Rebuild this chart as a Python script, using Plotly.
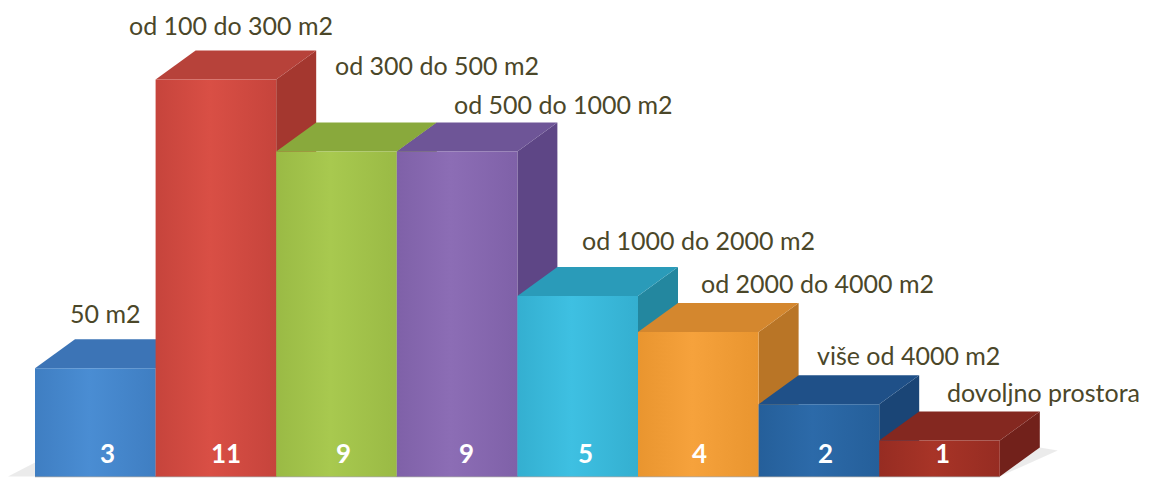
import plotly.graph_objects as go

# ---- data ----
categories = ["50 m2", "od 100 do 300 m2", "od 300 do 500 m2", "od 500 do 1000 m2",
              "od 1000 do 2000 m2", "od 2000 do 4000 m2", "više od 4000 m2", "dovoljno prostora"]
values = [3, 11, 9, 9, 5, 4, 2, 1]

# ---- style ----
front_colors = ["#4a8dd3", "#d94f45", "#a8c94f", "#8c6db5", "#3ec0e2", "#f6a23c", "#2c6aa9", "#a83427"]
front_edge = ["#3f7ec2", "#c6443c", "#9aba45", "#7f61a8", "#34afd0", "#e9952f", "#255f9a", "#962c22"]
top_colors = ["#3c74b6", "#b7423a", "#89a93c", "#6e5597", "#2a9bb9", "#d4872e", "#1f5088", "#842820"]
side_colors = ["#3068a6", "#a4372f", "#7a9834", "#5e4686", "#23879f", "#b97526", "#1a4576", "#72211b"]
label_color = "#4b4729"

W, H = 1151, 479
PX_X = 120.6      # pixels per category
PX_Y = 36.1       # pixels per unit
LEFT_PX = 35
BASE_PX = 476.5
DX = 40 / PX_X    # depth offset in x (data units)
DY = 29 / PX_Y    # depth offset in y (data units)
BW = 1.0

x0 = -0.5 - LEFT_PX / PX_X
x1 = x0 + W / PX_X
y0 = -(H - BASE_PX) / PX_Y
y1 = BASE_PX / PX_Y

LABEL_DX = [10, 15, 100, 106, 121, 119, 90, 104]
LABEL_DY = [55, 54, 87, 48, 56, 49, 49, 48]
VALUE_DX = [12, 10, 7, 9, 8, 1, 7, 3]

fig = go.Figure()

def poly(xs, ys, color, grad=None):
    kw = dict(x=xs + [xs[0]], y=ys + [ys[0]], mode="lines", fill="toself",
              fillcolor=color, line=dict(width=0, color=color),
              hoverinfo="skip", showlegend=False)
    if grad:
        kw["fillgradient"] = dict(type="horizontal", colorscale=grad)
    fig.add_trace(go.Scatter(**kw))

n = len(values)
# soft shadows at the floor ends
poly([x0 + 8 / PX_X, -0.5, -0.5], [0, 0, 14 / PX_Y], "rgba(0,0,0,0.08)")
poly([n - 0.5, n - 0.5 + DX + 18 / PX_X, n - 0.5 + DX], [0, DY * 0.9, DY], "rgba(0,0,0,0.08)")

# baseline
fig.add_trace(go.Scatter(x=[-0.5, n - 0.5], y=[0, 0], mode="lines",
                         line=dict(color="#a6a6a6", width=1.5),
                         hoverinfo="skip", showlegend=False))

for i, v in enumerate(values):
    l, r = i - BW / 2, i + BW / 2
    poly([r, r + DX, r + DX, r], [0, DY, v + DY, v], side_colors[i])
    poly([l, r, r + DX, l + DX], [v, v, v + DY, v + DY], top_colors[i])
    poly([l, r, r, l], [0, 0, v, v], front_colors[i],
         grad=[[0, front_edge[i]], [0.45, front_colors[i]], [1, front_edge[i]]])

annotations = []
for i, (c, v) in enumerate(zip(categories, values)):
    annotations.append(dict(x=i, y=v, xref="x", yref="y", text=c, showarrow=False,
                            xanchor="center", yanchor="middle",
                            xshift=LABEL_DX[i], yshift=LABEL_DY[i],
                            font=dict(family="Lato", size=25, color=label_color)))
    annotations.append(dict(x=i, y=0, xref="x", yref="y", text=f"<b>{v}</b>", showarrow=False,
                            xanchor="center", yanchor="middle", xshift=VALUE_DX[i], yshift=24,
                            font=dict(family="Lato", size=26, color="white")))

fig.update_layout(
    width=W, height=H,
    margin=dict(l=0, r=0, t=0, b=0),
    paper_bgcolor="white", plot_bgcolor="white",
    xaxis=dict(range=[x0, x1], visible=False, fixedrange=True),
    yaxis=dict(range=[y0, y1], visible=False, fixedrange=True),
    annotations=annotations,
)

fig.write_html("out.html", config={"displayModeBar": False},
               post_script="document.body.style.margin='0';document.body.style.overflow='hidden';")
